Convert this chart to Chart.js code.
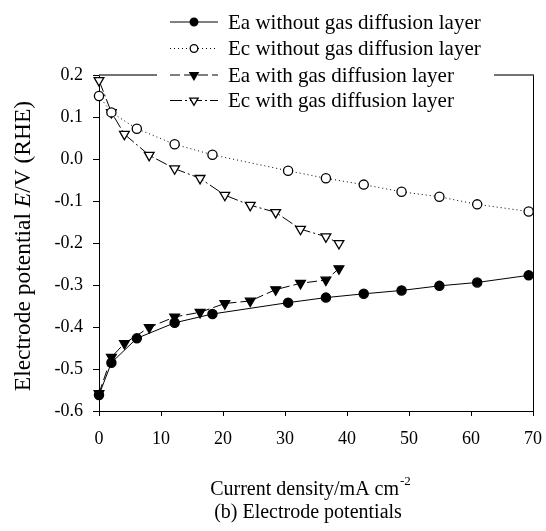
<!DOCTYPE html>
<html>
<head>
<meta charset="utf-8">
<script src="https://cdn.jsdelivr.net/npm/chart.js@4.4.1/dist/chart.umd.min.js"></script>
<style>
    html, body { margin: 0; padding: 0; background: #fff; }
    #wrap { width: 546px; height: 531px; position: relative; }
</style>
</head>
<body>
<div id="wrap"><canvas id="potChart"></canvas></div>
<script>
// current density (mA cm-2) and electrode potentials (V vs RHE)
const jSemGdl = [0, 2, 6.1, 12.2, 18.3, 30.5, 36.6, 42.7, 48.8, 54.9, 61.0, 69.3];
const eaSemGdl = [-0.562, -0.485, -0.427, -0.390, -0.369, -0.342, -0.330, -0.321, -0.313, -0.302, -0.294, -0.277];
const ecSemGdl = [0.150, 0.111, 0.072, 0.035, 0.010, -0.028, -0.046, -0.061, -0.078, -0.090, -0.108, -0.125];

const jComGdl = [0, 2, 4.1, 8.1, 12.2, 16.3, 20.3, 24.4, 28.5, 32.5, 36.6, 38.7];
const eaComGdl = [-0.558, -0.472, -0.439, -0.401, -0.376, -0.365, -0.344, -0.338, -0.311, -0.296, -0.288, -0.261];
const ecComGdl = [0.187, 0.111, 0.059, 0.009, -0.023, -0.046, -0.086, -0.110, -0.127, -0.167, -0.185, -0.201];

const nomesSeries = [
    'Ea without gas diffusion layer',
    'Ec without gas diffusion layer',
    'Ea with gas diffusion layer',
    'Ec with gas diffusion layer'
];

const xTicks = [0, 10, 20, 30, 40, 50, 60, 70];
const yTicks = [-0.6, -0.5, -0.4, -0.3, -0.2, -0.1, 0.0, 0.1, 0.2];

const FONTE = "'Liberation Serif', 'Times New Roman', serif";

function pares(xs, ys) {
    return xs.map((x, i) => ({ x: x, y: ys[i] }));
}

// --- plugins de desenho ---

const molduraPlugin = {
    id: 'moldura',
    beforeDatasetsDraw(chart) {
        const { ctx, chartArea: a } = chart;
        ctx.save();
        ctx.strokeStyle = '#000';
        ctx.lineWidth = 1;
        ctx.beginPath();
        ctx.moveTo(a.right + 0.5, a.top);
        ctx.lineTo(a.right + 0.5, a.bottom);
        ctx.stroke();
        ctx.strokeStyle = '#444';
        ctx.lineWidth = 1.5;
        ctx.beginPath();
        ctx.moveTo(a.left, a.top);
        ctx.lineTo(a.right + 1, a.top);
        ctx.stroke();
        ctx.restore();
    }
};

const textosPlugin = {
    id: 'textos',
    afterDraw(chart) {
        const ctx = chart.ctx;
        ctx.save();

        // legenda (caixa branca por cima da moldura)
        ctx.fillStyle = '#fff';
        ctx.fillRect(157, 8, 337, 106);
        const linhas = [22, 48.5, 75, 100.5];
        chart.data.datasets.forEach((ds, i) => {
            const y = linhas[i];
            ctx.save();
            ctx.strokeStyle = ds.borderColor;
            ctx.lineWidth = ds.borderWidth;
            ctx.setLineDash(ds.borderDash || []);
            ctx.beginPath();
            ctx.moveTo(170, y);
            ctx.lineTo(218, y);
            ctx.stroke();
            ctx.setLineDash([]);
            ctx.fillStyle = ds.pointBackgroundColor;
            ctx.strokeStyle = ds.pointBorderColor;
            ctx.lineWidth = ds.pointBorderWidth;
            Chart.helpers.drawPoint(ctx, {
                pointStyle: ds.pointStyle,
                rotation: ds.pointRotation || 0,
                radius: ds.pointStyle === 'circle' ? 3.8 : 4.8,
                borderWidth: ds.pointBorderWidth
            }, 194, y);
            ctx.restore();
            ctx.fillStyle = '#000';
            ctx.font = '21px ' + FONTE;
            ctx.textBaseline = 'middle';
            ctx.textAlign = 'left';
            ctx.fillText(ds.label, 228, y + 1);
        });

        // titulo eixo x com expoente
        ctx.fillStyle = '#000';
        ctx.textBaseline = 'middle';
        ctx.textAlign = 'left';
        ctx.font = '20px ' + FONTE;
        const base = 'Current density/mA cm';
        const wBase = ctx.measureText(base).width;
        ctx.font = '13px ' + FONTE;
        const wSup = ctx.measureText('-2').width;
        let x0 = 310 - (wBase + wSup) / 2;
        ctx.font = '20px ' + FONTE;
        ctx.fillText(base, x0, 490);
        ctx.font = '13px ' + FONTE;
        ctx.fillText('-2', x0 + wBase + 1, 482);

        ctx.font = '20px ' + FONTE;
        ctx.textAlign = 'center';
        ctx.fillText('(b) Electrode potentials', 308, 513);

        // titulo eixo y (E em italico)
        const partes = [
            ['Electrode potential ', ''],
            ['E', 'italic '],
            ['/V (RHE)', '']
        ];
        const tam = 23.5;
        let total = 0;
        partes.forEach(p => {
            ctx.font = p[1] + tam + 'px ' + FONTE;
            total += ctx.measureText(p[0]).width;
        });
        ctx.translate(24, 246);
        ctx.rotate(-Math.PI / 2);
        ctx.textAlign = 'left';
        let px = -total / 2;
        partes.forEach(p => {
            ctx.font = p[1] + tam + 'px ' + FONTE;
            ctx.fillText(p[0], px, 0);
            px += ctx.measureText(p[0]).width;
        });
        ctx.restore();
    }
};

document.addEventListener('DOMContentLoaded', () => {
    const ctx = document.getElementById('potChart');

    const comum = {
        borderColor: '#000',
        borderWidth: 1,
        pointBorderColor: '#000',
        pointBorderWidth: 1.3,
        tension: 0,
        clip: false
    };

    new Chart(ctx, {
        type: 'line',
        data: {
            datasets: [
                Object.assign({}, comum, {
                    label: nomesSeries[0],
                    data: pares(jSemGdl, eaSemGdl),
                    pointStyle: 'circle',
                    pointRadius: 4.6,
                    pointBackgroundColor: '#000'
                }),
                Object.assign({}, comum, {
                    label: nomesSeries[1],
                    data: pares(jSemGdl, ecSemGdl),
                    borderDash: [1, 3],
                    pointStyle: 'circle',
                    pointRadius: 4.6,
                    pointBackgroundColor: '#fff'
                }),
                Object.assign({}, comum, {
                    label: nomesSeries[2],
                    data: pares(jComGdl, eaComGdl),
                    borderDash: [10, 4],
                    pointStyle: 'triangle',
                    pointRotation: 180,
                    pointRadius: 5.6,
                    pointBackgroundColor: '#000'
                }),
                Object.assign({}, comum, {
                    label: nomesSeries[3],
                    data: pares(jComGdl, ecComGdl),
                    borderDash: [12, 3, 2, 3],
                    pointStyle: 'triangle',
                    pointRotation: 180,
                    pointRadius: 5.6,
                    pointBackgroundColor: '#fff'
                })
            ]
        },
        options: {
            responsive: true,
            maintainAspectRatio: false,
            animation: false,
            devicePixelRatio: 1,
            layout: { padding: { left: 0, right: 13, top: 75, bottom: 0 } },
            plugins: {
                legend: { display: false },
                tooltip: { enabled: false }
            },
            scales: {
                x: {
                    type: 'linear',
                    min: 0,
                    max: 70,
                    afterBuildTicks: s => { s.ticks = xTicks.map(v => ({ value: v })); },
                    afterFit: s => {
                        s.height = 120;
                        s.paddingLeft = 0;
                        s.paddingRight = 0;
                    },
                    border: { display: true, color: '#000', width: 1 },
                    grid: { drawOnChartArea: false, drawTicks: true, tickLength: 5, color: '#000' },
                    ticks: {
                        color: '#000',
                        padding: 12,
                        maxRotation: 0,
                        font: { family: FONTE, size: 18 },
                        callback: v => String(v)
                    }
                },
                y: {
                    min: -0.6,
                    max: 0.2,
                    afterBuildTicks: s => { s.ticks = yTicks.map(v => ({ value: v })); },
                    afterFit: s => {
                        s.width = 99;
                        s.paddingTop = 0;
                        s.paddingBottom = 0;
                    },
                    border: { display: true, color: '#000', width: 1 },
                    grid: { drawOnChartArea: false, drawTicks: true, tickLength: 6, color: '#000' },
                    ticks: {
                        color: '#000',
                        padding: 10,
                        font: { family: FONTE, size: 18 },
                        callback: v => (Math.abs(v) < 1e-9 ? '0.0' : Number(v).toFixed(1))
                    }
                }
            }
        },
        plugins: [molduraPlugin, textosPlugin]
    });
});
</script>
</body>
</html>
